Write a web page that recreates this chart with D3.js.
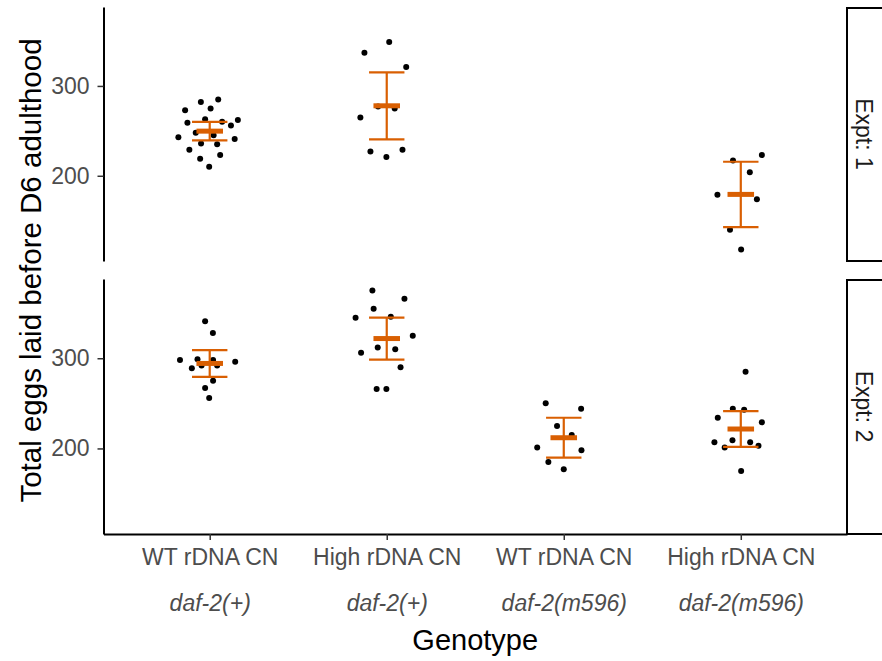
<!DOCTYPE html>
<html>
<head>
<meta charset="utf-8">
<script src="https://cdn.jsdelivr.net/npm/d3@7"></script>
<style>
  html, body { margin: 0; padding: 0; background: #ffffff; }
  svg { display: block; font-family: "Liberation Sans", Arial, Helvetica, sans-serif; }
</style>
</head>
<body>
<svg id="chart" width="882" height="661"></svg>
<script>
// ---- data ---------------------------------------------------------------
const genotypes   = ["WT rDNA CN", "High rDNA CN", "WT rDNA CN", "High rDNA CN"];
const backgrounds = ["daf-2(+)", "daf-2(+)", "daf-2(m596)", "daf-2(m596)"];
const experiments = ["Expt: 1", "Expt: 2"];
const yTicks      = [200, 300];

// eggs per worm; the *Jit arrays hold the horizontal jitter (fraction of a category step)
const e1WtPlus      = [285, 282, 275, 273, 259, 263, 260, 262, 256, 248, 245, 243, 241, 236, 235, 229, 223, 219, 210];
const e1WtPlusJit   = [0.048, -0.050, 0.005, -0.139, -0.126, -0.026, 0.070, 0.159, 0.120, -0.079, 0.022, -0.177, 0.141, -0.049, 0.042, -0.115, 0.059, -0.054, -0.003];
const e1HighPlus    = [349, 337, 321, 277, 275, 265, 227, 221, 229];
const e1HighPlusJit = [0.014, -0.126, 0.110, -0.049, 0.045, -0.149, -0.092, -0.002, 0.089];
const e1HighM596    = [217, 223, 204, 179, 174, 140, 118];
const e1HighM596Jit = [-0.044, 0.119, 0.051, -0.132, 0.091, -0.061, 0.002];

const e2WtPlus      = [341, 328, 298, 299, 289, 292, 298, 292, 296, 275, 267, 256];
const e2WtPlusJit   = [-0.026, 0.018, -0.168, -0.069, -0.101, -0.046, 0.019, 0.042, 0.144, 0.019, -0.026, -0.003];
const e2HighPlus    = [375, 366, 355, 345, 346, 325, 312, 310, 306, 290, 266, 266];
const e2HighPlusJit = [-0.081, 0.100, -0.074, -0.176, 0.023, 0.147, -0.051, 0.048, -0.145, 0.078, -0.057, -0.002];
const e2WtM596      = [250, 244, 225, 215, 201, 198, 185, 177];
const e2WtM596Jit   = [-0.102, 0.098, -0.038, 0.045, -0.150, 0.100, -0.087, 0.000];
const e2HighM596    = [285, 244, 243, 234, 229, 207, 209, 207, 201, 203, 175];
const e2HighM596Jit = [0.027, -0.045, 0.019, -0.130, 0.119, -0.149, -0.047, 0.053, -0.091, 0.100, 0.002];

// two-sided 97.5% Student t quantiles by degrees of freedom
const t975 = {1: 12.706, 2: 4.303, 3: 3.182, 4: 2.776, 5: 2.571, 6: 2.447, 7: 2.365, 8: 2.306, 9: 2.262,
  10: 2.228, 11: 2.201, 12: 2.179, 13: 2.160, 14: 2.145, 15: 2.131, 16: 2.120, 17: 2.110, 18: 2.101,
  19: 2.093, 20: 2.086, 25: 2.060, 30: 2.042};

const groups = [
  {expt: 0, cat: 0, eggs: e1WtPlus,   jit: e1WtPlusJit},
  {expt: 0, cat: 1, eggs: e1HighPlus, jit: e1HighPlusJit},
  {expt: 0, cat: 3, eggs: e1HighM596, jit: e1HighM596Jit},
  {expt: 1, cat: 0, eggs: e2WtPlus,   jit: e2WtPlusJit},
  {expt: 1, cat: 1, eggs: e2HighPlus, jit: e2HighPlusJit},
  {expt: 1, cat: 2, eggs: e2WtM596,   jit: e2WtM596Jit},
  {expt: 1, cat: 3, eggs: e2HighM596, jit: e2HighM596Jit}
];

// mean with a t-based 95% confidence interval
groups.forEach(g => {
  const n = g.eggs.length;
  g.mean = d3.mean(g.eggs);
  const se = d3.deviation(g.eggs) / Math.sqrt(n);
  g.half = t975[n - 1] * se;
});

// ---- layout -------------------------------------------------------------
const svg = d3.select("#chart");
const panelLeft = 103.5, panelRight = 847;
const panels = [{top: 7, bottom: 261}, {top: 279, bottom: 534}];
const orange = "#d95f02";
const tickGrey = "#4d4d4d";

const x = d3.scalePoint()
  .domain(d3.range(genotypes.length))
  .range([panelLeft, panelRight])
  .padding(0.6);
const step = x.step();

// shared y domain: data range plus 5% on each side
const allEggs = groups.flatMap(g => g.eggs);
const [lo, hi] = d3.extent(allEggs);
const pad = (hi - lo) * 0.05;
const yDomain = [lo - pad, hi + pad];

panels.forEach((p, i) => {
  const y = d3.scaleLinear().domain(yDomain).range([p.bottom, p.top]);
  const g = svg.append("g");

  // left axis
  const ax = g.append("g")
    .attr("transform", `translate(${panelLeft},0)`)
    .call(d3.axisLeft(y).tickValues(yTicks).tickSize(6).tickSizeOuter(0).tickPadding(8));
  ax.select(".domain").attr("stroke", "#000").attr("stroke-width", 2);
  ax.selectAll(".tick line").attr("stroke", "#333").attr("stroke-width", 1.5);
  ax.selectAll(".tick text")
    .attr("fill", tickGrey)
    .style("font-size", "23px");

  const inPanel = groups.filter(d => d.expt === i);

  // jittered observations
  inPanel.forEach(d => {
    g.append("g").selectAll("circle")
      .data(d.eggs.map((v, k) => ({v, j: d.jit[k]})))
      .join("circle")
      .attr("cx", o => x(d.cat) + o.j * step)
      .attr("cy", o => y(o.v))
      .attr("r", 3)
      .attr("fill", "#000");
  });

  // confidence-interval error bars
  const capHalf = 0.1 * step, meanHalf = 0.075 * step;
  const eb = g.append("g").selectAll("g").data(inPanel).join("g")
    .attr("stroke", orange).attr("fill", "none");
  eb.append("line")
    .attr("x1", d => x(d.cat)).attr("x2", d => x(d.cat))
    .attr("y1", d => y(d.mean - d.half)).attr("y2", d => y(d.mean + d.half))
    .attr("stroke-width", 2.2);
  eb.append("line")
    .attr("x1", d => x(d.cat) - capHalf).attr("x2", d => x(d.cat) + capHalf)
    .attr("y1", d => y(d.mean + d.half)).attr("y2", d => y(d.mean + d.half))
    .attr("stroke-width", 2.2);
  eb.append("line")
    .attr("x1", d => x(d.cat) - capHalf).attr("x2", d => x(d.cat) + capHalf)
    .attr("y1", d => y(d.mean - d.half)).attr("y2", d => y(d.mean - d.half))
    .attr("stroke-width", 2.2);
  // group mean
  eb.append("line")
    .attr("x1", d => x(d.cat) - meanHalf).attr("x2", d => x(d.cat) + meanHalf)
    .attr("y1", d => y(d.mean)).attr("y2", d => y(d.mean))
    .attr("stroke-width", 5);

  // facet strip on the right
  g.append("rect")
    .attr("x", panelRight).attr("y", p.top + 1)
    .attr("width", 60).attr("height", p.bottom - p.top - 1)
    .attr("fill", "#fff").attr("stroke", "#000").attr("stroke-width", 2);
  const sy = (p.top + p.bottom) / 2;
  g.append("text")
    .attr("transform", `translate(864,${sy}) rotate(90)`)
    .attr("text-anchor", "middle")
    .attr("dominant-baseline", "central")
    .attr("fill", "#1a1a1a")
    .style("font-size", "23px")
    .text(experiments[i]);

  // bottom axis only under the last panel
  if (i === panels.length - 1) {
    const xa = g.append("g")
      .attr("transform", `translate(0,${p.bottom})`)
      .call(d3.axisBottom(x).tickSize(6).tickSizeOuter(0).tickFormat(() => ""));
    xa.select(".domain").attr("stroke", "#000").attr("stroke-width", 2);
    xa.selectAll(".tick line").attr("stroke", "#333").attr("stroke-width", 1.5);
    xa.selectAll(".tick").each(function(d) {
      const t = d3.select(this);
      t.append("text")
        .attr("y", 557 - p.bottom).attr("dominant-baseline", "central")
        .attr("text-anchor", "middle").attr("fill", tickGrey)
        .style("font-size", "23px")
        .text(genotypes[d]);
      t.append("text")
        .attr("y", 603 - p.bottom).attr("dominant-baseline", "central")
        .attr("text-anchor", "middle").attr("fill", tickGrey)
        .style("font-size", "23px").style("font-style", "italic")
        .text(backgrounds[d]);
    });
  }
});

// axis titles
svg.append("text")
  .attr("x", (panelLeft + panelRight) / 2).attr("y", 640)
  .attr("text-anchor", "middle").attr("dominant-baseline", "central")
  .attr("fill", "#000").style("font-size", "29px")
  .text("Genotype");

svg.append("text")
  .attr("transform", `translate(30,${(panels[0].top + panels[1].bottom) / 2}) rotate(-90)`)
  .attr("text-anchor", "middle").attr("dominant-baseline", "central")
  .attr("fill", "#000").style("font-size", "29.5px")
  .text("Total eggs laid before D6 adulthood");
</script>
</body>
</html>
